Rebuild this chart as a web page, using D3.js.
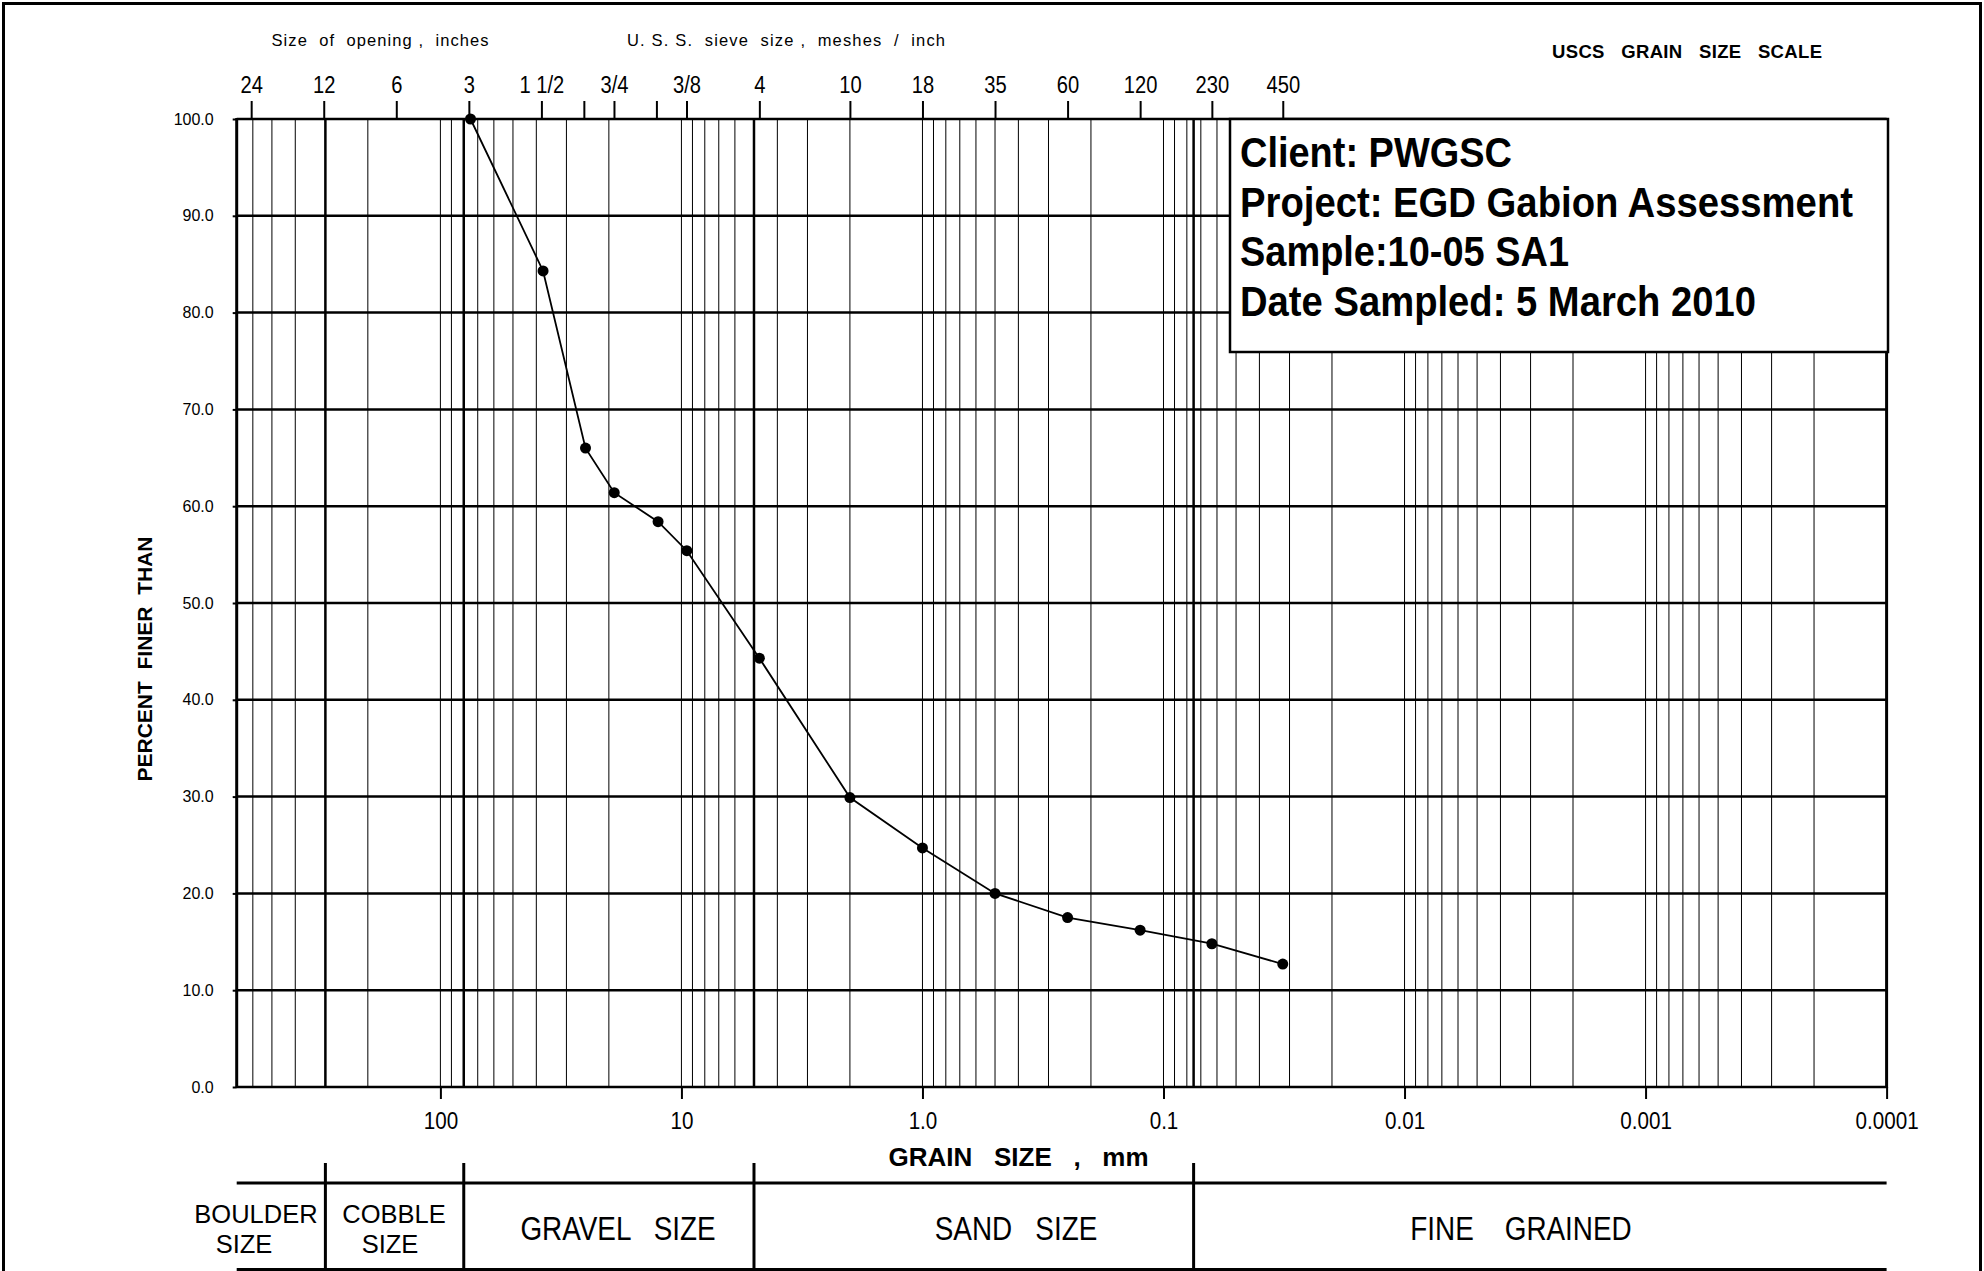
<!DOCTYPE html>
<html>
<head>
<meta charset="utf-8">
<script src="https://cdn.jsdelivr.net/npm/d3@7"></script>
<style>
  body { margin: 0; background: #fff; }
  text { font-family: "Liberation Sans", Arial, sans-serif; fill: #000; }
</style>
</head>
<body>
<svg class="chart"></svg>
<script>
// sieve analysis, sample 10-05 SA1
var sizes = [75, 37.5, 25, 19, 12.5, 9.5, 4.75, 2.0, 1.0, 0.5, 0.25, 0.125, 0.063, 0.032];
var percents = [100, 84.3, 66.0, 61.4, 58.4, 55.4, 44.3, 29.9, 24.7, 20.0, 17.5, 16.2, 14.8, 12.7];

var sieveMm = [609.6, 304.8, 152.4, 76.2, 38.1, 25.4, 19.05, 12.7, 9.525, 4.75, 2.0, 1.0, 0.5, 0.25, 0.125, 0.063, 0.032];
var sieveLabels = ['24', '12', '6', '3', '1 1/2', '', '3/4', '', '3/8', '4', '10', '18', '35', '60', '120', '230', '450'];

var decades = [100, 10, 1, 0.1, 0.01, 0.001, 0.0001];
var decadeLabels = ['100', '10', '1.0', '0.1', '0.01', '0.001', '0.0001'];
var percentTicks = [0, 10, 20, 30, 40, 50, 60, 70, 80, 90, 100];

var boundaries = [300, 80, 5, 0.075];
var infoLines = ['Client: PWGSC', 'Project: EGD Gabion Assessment', 'Sample:10-05 SA1', 'Date Sampled: 5 March 2010'];

var width = 1984, height = 1271;
var plot = {left: 236.7, right: 1886.6, top: 119, bottom: 1087};

var x = d3.scaleLog()
    .domain([700, 0.0001])
    .range([plot.left, plot.right]);

var y = d3.scaleLinear()
    .domain([0, 100])
    .range([plot.bottom, plot.top]);

var svg = d3.select(".chart")
    .attr("width", width)
    .attr("height", height);

// page frame
svg.append("rect")
    .attr("x", 3.5).attr("y", 3.5)
    .attr("width", 1977).attr("height", 1400)
    .attr("fill", "none").attr("stroke", "#000").attr("stroke-width", 3);

// vertical log grid
svg.append("g").selectAll("line")
    .data(x.ticks())
  .enter().append("line")
    .attr("x1", function(d) { return x(d); })
    .attr("x2", function(d) { return x(d); })
    .attr("y1", plot.top).attr("y2", plot.bottom)
    .attr("stroke", "#000").attr("stroke-width", 1);

svg.append("g").selectAll("line")
    .data(boundaries)
  .enter().append("line")
    .attr("x1", function(d) { return x(d); })
    .attr("x2", function(d) { return x(d); })
    .attr("y1", plot.top).attr("y2", plot.bottom)
    .attr("stroke", "#000").attr("stroke-width", 2.5);

svg.append("g").selectAll("line")
    .data(percentTicks)
  .enter().append("line")
    .attr("x1", plot.left).attr("x2", plot.right)
    .attr("y1", function(d) { return y(d); })
    .attr("y2", function(d) { return y(d); })
    .attr("stroke", "#000").attr("stroke-width", 2.5);

[plot.left, plot.right].forEach(function(px) {
  svg.append("line")
      .attr("x1", px).attr("x2", px)
      .attr("y1", plot.top - 1).attr("y2", plot.bottom + 1)
      .attr("stroke", "#000").attr("stroke-width", 3);
});

// axes
var yAxis = svg.append("g")
    .attr("transform", "translate(" + plot.left + ",0)")
    .call(d3.axisLeft(y).tickValues(percentTicks).tickFormat(d3.format(".1f")).tickSize(4).tickPadding(19));

var topAxis = svg.append("g")
    .attr("transform", "translate(0," + plot.top + ")")
    .call(d3.axisTop(x).tickValues(sieveMm)
      .tickFormat(function(d, i) { return sieveLabels[i]; })
      .tickSize(18).tickPadding(8));

var bottomAxis = svg.append("g")
    .attr("transform", "translate(0," + plot.bottom + ")")
    .call(d3.axisBottom(x).tickValues(decades)
      .tickFormat(function(d, i) { return decadeLabels[i]; })
      .tickSize(12).tickPadding(13));

[yAxis, topAxis, bottomAxis].forEach(function(a) {
  a.select(".domain").remove();
  a.attr("font-family", null);
  a.selectAll(".tick line").attr("stroke", "#000").attr("stroke-width", 2);
});
yAxis.selectAll("text").attr("font-size", 16);
topAxis.selectAll("text").attr("font-size", 24).attr("transform", "scale(0.84,1)");
bottomAxis.selectAll("text").attr("font-size", 24).attr("transform", "scale(0.86,1)");

// gradation curve
var points = sizes.map(function(s, i) { return [s, percents[i]]; });

svg.append("path")
    .datum(points)
    .attr("fill", "none")
    .attr("stroke", "#000")
    .attr("stroke-width", 1.8)
    .attr("d", d3.line()
      .x(function(d) { return x(d[0]); })
      .y(function(d) { return y(d[1]); }));

svg.append("g").selectAll("circle")
    .data(points)
  .enter().append("circle")
    .attr("cx", function(d) { return x(d[0]); })
    .attr("cy", function(d) { return y(d[1]); })
    .attr("r", 5.5)
    .attr("fill", "#000");

// info box
svg.append("rect")
    .attr("x", 1230).attr("y", plot.top)
    .attr("width", 658).attr("height", 233)
    .attr("fill", "#fff").attr("stroke", "#000").attr("stroke-width", 2.5);

var infoWidths = [272, 613, 329, 516];
svg.append("g").selectAll("text")
    .data(infoLines)
  .enter().append("text")
    .attr("x", 1240)
    .attr("y", function(d, i) { return 167 + i * 49.5; })
    .attr("font-size", 42)
    .attr("font-weight", "bold")
    .attr("textLength", function(d, i) { return infoWidths[i]; })
    .attr("lengthAdjust", "spacingAndGlyphs")
    .text(function(d) { return d; });

// headings
function label(txt, px, py, size, opts) {
  opts = opts || {};
  var t = svg.append("text")
      .attr("x", px).attr("y", py)
      .attr("font-size", size)
      .attr("text-anchor", opts.anchor || "middle")
      .attr("font-weight", opts.bold ? "bold" : null)
      .style("white-space", "pre")
      .text(txt);
  if (opts.len) t.attr("textLength", opts.len).attr("lengthAdjust", "spacing");
  if (opts.transform) t.attr("transform", opts.transform);
  return t;
}

label("Size  of  opening ,  inches", 380, 45.5, 16.5, {len: 217});
label("U. S. S.  sieve  size ,  meshes  /  inch", 786, 45.5, 16.5, {len: 318});
label("USCS   GRAIN   SIZE   SCALE", 1687, 58, 18.5, {bold: true, len: 270});
label("GRAIN   SIZE   ,   mm", 1018.6, 1166, 26, {bold: true});
label("PERCENT  FINER  THAN", 0, 0, 21, {bold: true, transform: "translate(151.5,659) rotate(-90)"});

// soil classification band
[1183, 1269.5].forEach(function(py) {
  svg.append("line")
      .attr("x1", plot.left).attr("x2", plot.right)
      .attr("y1", py).attr("y2", py)
      .attr("stroke", "#000").attr("stroke-width", 3);
});

svg.append("g").selectAll("line")
    .data(boundaries)
  .enter().append("line")
    .attr("x1", function(d) { return x(d); })
    .attr("x2", function(d) { return x(d); })
    .attr("y1", 1163).attr("y2", 1271)
    .attr("stroke", "#000").attr("stroke-width", 3);

label("BOULDER", 256, 1223, 25.5);
label("SIZE", 244, 1252.5, 25.5);
label("COBBLE", 394, 1223, 25.5);
label("SIZE", 390, 1252.5, 25.5);

function narrow(txt, px, py) {
  svg.append("g")
      .attr("transform", "translate(" + px + "," + py + ") scale(0.82,1)")
    .append("text")
      .attr("text-anchor", "middle")
      .attr("font-size", 34)
      .style("white-space", "pre")
      .text(txt);
}
narrow("GRAVEL   SIZE", 618, 1240);
narrow("SAND   SIZE", 1016, 1240);
narrow("FINE    GRAINED", 1521, 1240);
</script>
</body>
</html>
